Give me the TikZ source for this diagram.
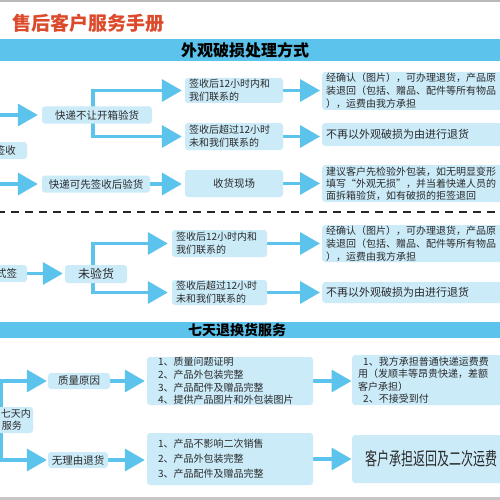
\documentclass[tikz,border=0pt]{standalone}
\usepackage{fontspec}
\setmainfont{Noto Sans CJK SC}
\usetikzlibrary{arrows.meta}
\definecolor{band}{HTML}{5BC3EC}
\definecolor{boxc}{HTML}{CBEBF9}
\definecolor{arr}{HTML}{5BC3EC}
\definecolor{ttl}{HTML}{DC4A2C}
\definecolor{txt}{HTML}{2A2A2A}
\pgfdeclarelayer{back}
\pgfdeclarelayer{bg}
\pgfsetlayers{back,bg,main}
\begin{document}
\begin{tikzpicture}[x=1pt,y=-1pt,
  bx/.style={fill=boxc, rounded corners=3pt, text=txt, inner sep=0pt, font=\fontsize{10}{13}\selectfont},
  lbx/.style={bx, anchor=west, align=left},
  ar/.style={draw=arr, line width=3.5pt, -{Triangle[length=20pt,width=22pt]}, shorten >=2pt},
  ln/.style={draw=arr, line width=3.5pt, line cap=rect},
  bandt/.style={font=\fontsize{#1}{#1}\selectfont\bfseries, text=black, inner sep=0pt},
]
\useasboundingbox (0,0) rectangle (500,500);
\clip (0,0) rectangle (500,500);
\begin{pgfonlayer}{back}
\fill[white] (0,0) rectangle (500,500);
\fill[gray!55] (0,0) rectangle (500,2);
\fill[gray!45] (0,497) rectangle (500,500);
\fill[band] (0,39) rectangle (500,61);
\fill[band] (0,322) rectangle (500,338);
\draw[black!85, line width=1.4pt, dash pattern=on 8pt off 6pt] (-3,212) -- (503,212);
\end{pgfonlayer}

\node[font=\fontsize{19}{19}\selectfont\bfseries, text=ttl, anchor=west, inner sep=0pt] (title) at (12,23) {售后客户服务手册};
\node[bandt=16] (band1) at (245,50) {外观破损处理方式};
\node[bandt=14] (band2) at (237,330) {七天退换货服务};

% section 1
\node[bx, minimum width=110, minimum height=17, font=\fontsize{10.5}{13}\selectfont] (kd1) at (97,115) {快递不让开箱验货};
\node[bx, minimum width=67, minimum height=17, text width=45, inner xsep=11, align=right, font=\fontsize{10.5}{13}\selectfont] (qs) at (-6.5,150.5) {签收};
\node[bx, minimum width=108, minimum height=17, font=\fontsize{10.5}{13}\selectfont] (kd2) at (96,184) {快递可先签收后验货};
\node[bx, minimum width=98, minimum height=25, text width=90, inner xsep=4, align=left] (m1) at (234,90.5) {签收后12小时内和\\我们联系的};
\node[bx, minimum width=98, minimum height=27, text width=90, inner xsep=4, align=left] (m2) at (234,136.5) {签收后超过12小时\\未和我们联系的};
\node[bx, minimum width=98, minimum height=27, font=\fontsize{10.5}{13}\selectfont] (m3) at (234,183.5) {收货现场};
\node[lbx, minimum width=208, minimum height=38, text width=200, inner xsep=4] (r1) at (322,91) {经确认（图片），可办理退货，产品原\\装退回（包括、赠品、配件等所有物品\\），运费由我方承担};
\node[lbx, minimum width=208, minimum height=23, text width=200, inner xsep=4, font=\fontsize{11}{13}\selectfont] (r2) at (322,134.5) {不再以外观破损为由进行退货};
\node[lbx, minimum width=208, minimum height=37, text width=200, inner xsep=4, font=\fontsize{10}{12}\selectfont] (r3) at (322,183.5) {建议客户先检验外包装，如无明显变形\\填写“外观无损”，并当着快递人员的\\面拆箱验货，如有破损的拒签退回};

% section 2
\node[bx, minimum width=67, minimum height=17, text width=47, inner xsep=10, align=right, font=\fontsize{10.5}{13}\selectfont] (sq) at (-6.5,273.5) {式签};
\node[bx, minimum width=62, minimum height=18, font=\fontsize{12}{13}\selectfont] (wyh) at (96,274) {未验货};
\node[bx, minimum width=95, minimum height=27, text width=87, inner xsep=4, align=left] (m4) at (219.5,243.5) {签收后12小时内和\\我们联系的};
\node[bx, minimum width=95, minimum height=25, text width=87, inner xsep=4, align=left] (m5) at (219.5,292.5) {签收后超过12小时\\未和我们联系的};
\node[lbx, minimum width=208, minimum height=37, text width=200, inner xsep=4] (r4) at (322,243.5) {经确认（图片），可办理退货，产品原\\装退回（包括、赠品、配件等所有物品\\），运费由我方承担};
\node[lbx, minimum width=208, minimum height=21, text width=200, inner xsep=4, font=\fontsize{11}{13}\selectfont] (r5) at (322,292.5) {不再以外观破损为由进行退货};

% section 3
\node[bx, minimum width=73, minimum height=26, text width=69, inner xsep=2, align=right, font=\fontsize{10}{12}\selectfont] (qt) at (-3.5,420) {七天内\\服务\rule{9pt}{0pt}};
\node[bx, minimum width=62, minimum height=16, font=\fontsize{10.5}{13}\selectfont] (zl) at (79,381) {质量原因};
\node[bx, minimum width=60, minimum height=16, font=\fontsize{10.5}{13}\selectfont] (wly) at (78,460) {无理由退货};
\node[bx, minimum width=166, minimum height=48, text width=144, inner xsep=11, align=left, font=\fontsize{10}{12.8}\selectfont] (l1) at (230,381) {1、质量问题证明\\2、产品外包装完整\\3、产品配件及赠品完整\\4、提供产品图片和外包装图片};
\node[bx, minimum width=166, minimum height=52, text width=144, inner xsep=11, align=left, font=\fontsize{10}{15}\selectfont] (l2) at (230,459) {1、产品不影响二次销售\\2、产品外包装完整\\3、产品配件及赠品完整};
\node[lbx, minimum width=178, minimum height=50, text width=166, inner xsep=6, font=\fontsize{10}{12.5}\selectfont] (rb1) at (352,380) {\hspace*{5pt}1、我方承担普通快递运费费\\用（发顺丰等昂贵快递，差额\\客户承担）\\\hspace*{5pt}2、不接受到付};
\node[lbx, minimum width=178, minimum height=48, text width=152, inner xsep=13, font=\fontsize{12}{13}\selectfont] (rb2) at (352,459) {\scalebox{1}[1.5]{客户承担返回及二次运费}};

% connectors
\coordinate (s1) at (0,115);
\coordinate (s2) at (0,184);
\coordinate (t1) at (93,90.5);
\coordinate (b1) at (93,136.5);
\coordinate (t2) at (93,243.5);
\coordinate (b2) at (93,292.5);
\coordinate (t3) at (1.5,381);
\coordinate (b3) at (1.5,460);
\begin{pgfonlayer}{bg}
\draw[ar, shorten >=4pt] (s1) -- (s1 -| kd1.west);
\draw[ar, shorten >=4pt] (s2) -- (s2 -| kd2.west);
\draw[ln] (t1) -- (b1);
\draw[ar, shorten >=3pt] (t1) -- (t1 -| m1.west);
\draw[ar, shorten >=3pt] (b1) -- (b1 -| m2.west);
\draw[ar, shorten >=3pt] (kd2.east) -- (kd2.east -| m3.west);
\draw[ar] (m1.east) -- (m1.east -| r1.west);
\draw[ar] (m2.east) -- (m2.east -| r2.west);
\draw[ar] (m3.east) -- (m3.east -| r3.west);
\draw[ar] (sq.east) -- (sq.east -| wyh.west);
\draw[ln] (t2) -- (b2);
\draw[ar, shorten >=4pt] (t2) -- (t2 -| m4.west);
\draw[ar, shorten >=4pt] (b2) -- (b2 -| m5.west);
\draw[ar] (m4.east) -- (m4.east -| r4.west);
\draw[ar] (m5.east) -- (m5.east -| r5.west);
\draw[ln] (t3) -- (b3);
\draw[ar, shorten >=1pt] (t3) -- (t3 -| zl.west);
\draw[ar, shorten >=1pt] (b3) -- (b3 -| wly.west);
\draw[ar] (zl.east) -- (zl.east -| l1.west);
\draw[ar, shorten >=0.5pt] (l1.east) -- (l1.east -| rb1.west);
\draw[ar] (wly.east) -- (wly.east -| l2.west);
\draw[ar, shorten >=0.5pt] (l2.east) -- (l2.east -| rb2.west);
\end{pgfonlayer}
\end{tikzpicture}
\end{document}
